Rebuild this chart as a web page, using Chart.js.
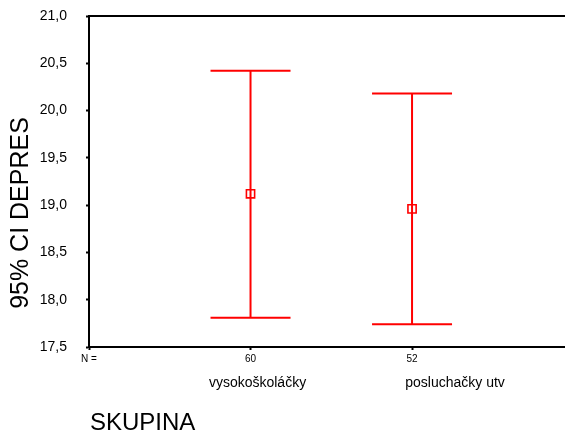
<!DOCTYPE html>
<html lang="cs">
<head>
<meta charset="utf-8">
<title>95% CI DEPRES</title>
<script src="https://cdn.jsdelivr.net/npm/chart.js"></script>
<style>
  html, body { margin: 0; padding: 0; background: #fff; overflow: hidden; }
  #wrap { width: 565px; height: 433px; }
</style>
</head>
<body>
<div id="wrap"><canvas id="ciChart" width="565" height="433"></canvas></div>
<script>
// data
const groups = ['vysokoškoláčky', 'posluchačky utv'];
const counts = [60, 52];
const means = [19.12, 18.96];
const lower = [17.81, 17.74];
const upper = [20.42, 20.18];
const yTicks = [17.5, 18.0, 18.5, 19.0, 19.5, 20.0, 20.5, 21.0];

const FONT = "'Liberation Sans', Arial, sans-serif";
const RED = '#ff0000';

// one vertical whisker dataset per group
const whiskerSets = groups.map((g, i) => ({
  label: g,
  data: [{ x: i + 1, y: lower[i] }, { x: i + 1, y: upper[i] }],
  showLine: true,
  borderColor: RED,
  borderWidth: 2,
  pointRadius: 0,
  clip: false
}));
const caps = groups.flatMap((g, i) => [{ x: i + 1, y: lower[i] }, { x: i + 1, y: upper[i] }]);
const meanPts = groups.map((g, i) => ({ x: i + 1, y: means[i] }));

// frame top line + free texts (y title, group names, x title)
const extras = {
  id: 'extras',
  afterDraw(chart) {
    const c = chart.ctx;
    const a = chart.chartArea;
    const xs = chart.scales.x;
    c.save();
    c.strokeStyle = '#000';
    c.lineWidth = 2;
    c.beginPath();
    c.moveTo(a.left, a.top);
    c.lineTo(chart.width, a.top);
    c.stroke();

    c.fillStyle = '#000';
    c.textBaseline = 'middle';

    // y axis title
    c.save();
    c.translate(21, 213);
    c.rotate(-Math.PI / 2);
    c.textAlign = 'center';
    c.font = '25px ' + FONT;
    c.fillText('95% CI DEPRES', 0, 0);
    c.restore();

    // group names under the N row
    const shift = [7, 43];
    c.font = '14px ' + FONT;
    c.textAlign = 'center';
    groups.forEach((g, i) => {
      c.fillText(g, xs.getPixelForValue(i + 1) + shift[i], a.bottom + 36);
    });

    // x axis title
    c.font = '24px ' + FONT;
    c.textAlign = 'left';
    c.fillText('SKUPINA', a.left + 1, a.bottom + 76);
    c.restore();
  }
};

const ctx = document.getElementById('ciChart').getContext('2d');
new Chart(ctx, {
  type: 'scatter',
  data: {
    datasets: [
      ...whiskerSets,
      {
        label: 'caps',
        data: caps,
        pointStyle: 'line',
        radius: 40,
        borderColor: RED,
        borderWidth: 2,
        clip: false
      },
      {
        label: 'mean',
        data: meanPts,
        pointStyle: 'rect',
        radius: 5.8,
        borderColor: RED,
        backgroundColor: 'rgba(0,0,0,0)',
        borderWidth: 1.6,
        clip: false
      }
    ]
  },
  options: {
    responsive: false,
    animation: false,
    events: [],
    layout: { autoPadding: false, padding: { left: 0, top: 16, right: 0, bottom: 0 } },
    plugins: { legend: { display: false }, tooltip: { enabled: false } },
    scales: {
      x: {
        type: 'linear',
        min: 0,
        max: 2.947,
        afterBuildTicks(s) {
          s.ticks = [0, 1, 2].map(v => ({ value: v }));
        },
        afterFit(s) {
          s.height = 86;
          s.paddingLeft = 0;
          s.paddingRight = 0;
        },
        ticks: {
          autoSkip: false,
          maxRotation: 0,
          padding: 3,
          color: '#000',
          font: { family: FONT, size: 10 },
          callback: v => (v === 0 ? 'N =' : String(counts[v - 1]))
        },
        grid: { drawOnChartArea: false, tickLength: 3, color: '#000', tickWidth: 2 },
        border: { color: '#000', width: 2 }
      },
      y: {
        min: 17.5,
        max: 21,
        afterBuildTicks(s) {
          s.ticks = yTicks.map(v => ({ value: v }));
        },
        afterFit(s) {
          s.width = 89;
          s.paddingTop = 0;
          s.paddingBottom = 0;
        },
        ticks: {
          padding: 19,
          color: '#000',
          font: { family: FONT, size: 14 },
          callback: v => v.toFixed(1).replace('.', ',')
        },
        grid: { drawOnChartArea: false, tickLength: 3, color: '#000', tickWidth: 2 },
        border: { color: '#000', width: 2 }
      }
    }
  },
  plugins: [extras]
});
</script>
</body>
</html>
